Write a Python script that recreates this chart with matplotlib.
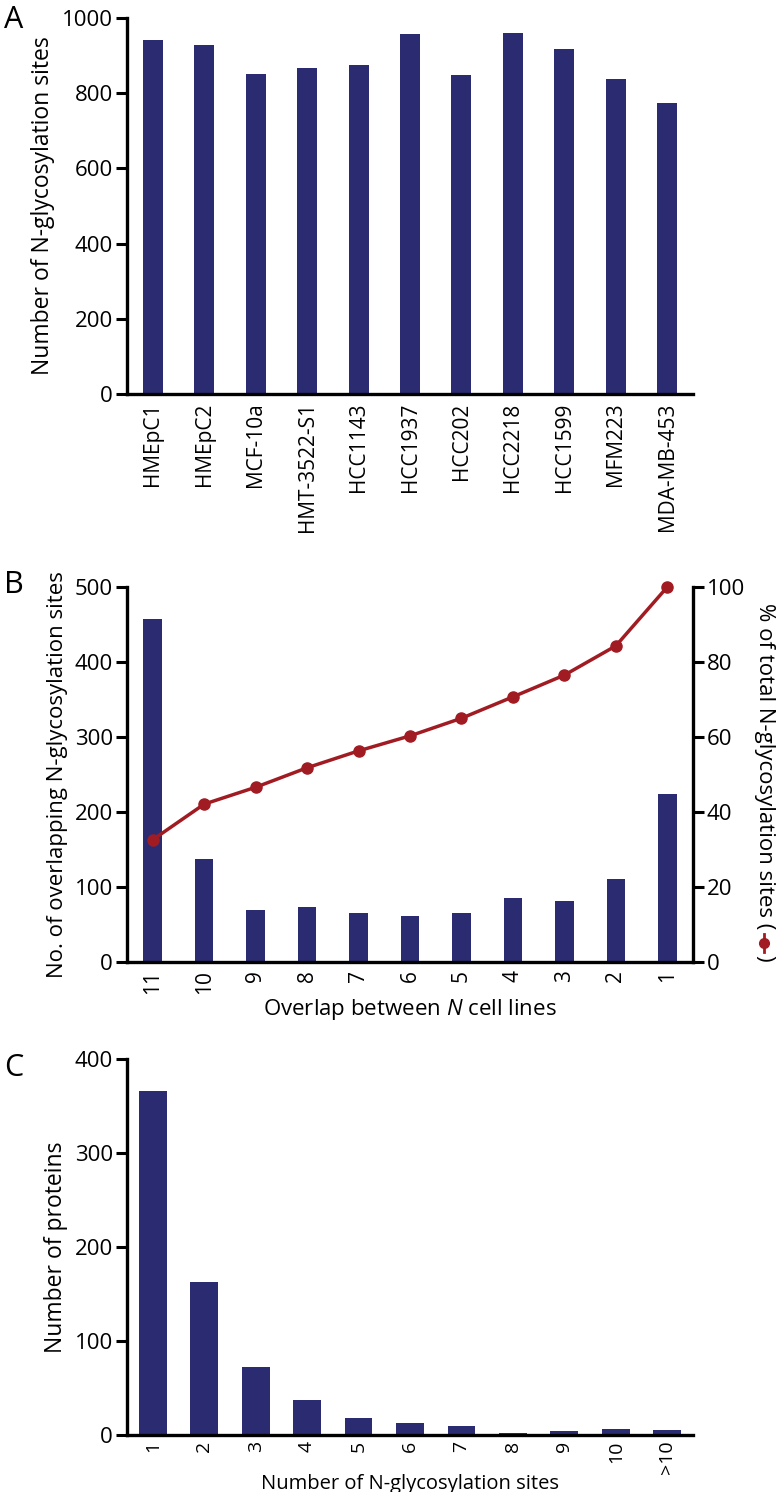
import matplotlib
matplotlib.use("Agg")
import matplotlib.pyplot as plt
from matplotlib.lines import Line2D
import numpy as np

plt.rcParams["font.family"] = ["Open Sans", "DejaVu Sans"]
plt.rcParams["mathtext.fontset"] = "custom"
plt.rcParams["mathtext.it"] = "Open Sans:italic"
plt.rcParams["mathtext.rm"] = "Open Sans"

NAVY = "#2b2b72"
RED = "#a11c22"

# panel A
cell_lines = ["HMEpC1", "HMEpC2", "MCF-10a", "HMT-3522-S1", "HCC1143", "HCC1937",
              "HCC202", "HCC2218", "HCC1599", "MFM223", "MDA-MB-453"]
sites_per_line = [942, 929, 852, 867, 875, 957, 848, 959, 918, 838, 773]

# panel B
overlap_n = ["11", "10", "9", "8", "7", "6", "5", "4", "3", "2", "1"]
overlap_sites = [458, 138, 69, 73, 65, 61, 66, 85, 82, 111, 224]
cumulative_pct = [32.6, 42.1, 46.6, 51.8, 56.3, 60.3, 65.0, 70.7, 76.5, 84.3, 100]

# panel C
n_sites = ["1", "2", "3", "4", "5", "6", "7", "8", "9", "10", ">10"]
n_proteins = [366, 163, 72, 37, 18, 12.5, 9.5, 2.5, 4, 6, 5]

W, H = 780, 1492
fig = plt.figure(figsize=(W / 100, H / 100), dpi=100)


def box(l, r, t, b):
    return [l / W, 1 - b / H, (r - l) / W, (b - t) / H]


def style(ax, xsize=15, ysize=16):
    for s in ["top", "right"]:
        ax.spines[s].set_visible(False)
    for s in ["left", "bottom"]:
        ax.spines[s].set_linewidth(2.4)
    ax.tick_params(axis="y", length=8, width=2.2, labelsize=ysize, pad=2)
    ax.tick_params(axis="x", length=0, labelsize=xsize, pad=6)


# A
axA = fig.add_axes(box(127, 693, 18, 394))
x = np.arange(len(cell_lines))
axA.bar(x, sites_per_line, width=0.39, color=NAVY)
axA.set_xlim(-0.5, 10.5)
axA.set_ylim(0, 1000)
axA.set_yticks([0, 200, 400, 600, 800, 1000])
axA.set_xticks(x)
axA.set_xticklabels(cell_lines, rotation=90)
style(axA)
axA.set_ylabel("Number of N-glycosylation sites", fontsize=16.5, labelpad=5)
fig.text(4 / W, 1 - 20 / H, "A", fontsize=22, va="center", ha="left")

# B
axB = fig.add_axes(box(127, 693, 587, 962))
x = np.arange(len(overlap_n))
axB.bar(x, overlap_sites, width=0.36, color=NAVY)
axB.set_xlim(-0.5, 10.5)
axB.set_ylim(0, 500)
axB.set_yticks([0, 100, 200, 300, 400, 500])
axB.set_xticks(x)
axB.set_xticklabels(overlap_n, rotation=90)
style(axB)
axB.set_ylabel("No. of overlapping N-glycosylation sites", fontsize=16, labelpad=5)
axB.set_xlabel("Overlap between $\\mathit{N}$ cell lines", fontsize=16, labelpad=2)

axB2 = axB.twinx()
axB2.plot(x, cumulative_pct, color=RED, lw=2.5, marker="o", ms=8, clip_on=False, zorder=5)
axB2.set_ylim(0, 100)
axB2.set_yticks([0, 20, 40, 60, 80, 100])
for s in ["top", "left", "bottom"]:
    axB2.spines[s].set_visible(False)
axB2.spines["right"].set_linewidth(2.4)
axB2.tick_params(axis="y", length=8, width=2.2, labelsize=16, pad=2)

# right-axis label with the line+marker glyph inside the brackets
lx = 764 / W
t1 = fig.text(lx, 1 - 603 / H, "% of total N-glycosylation sites (",
              rotation=270, fontsize=16, ha="center", va="top")
fig.canvas.draw()
bb = t1.get_window_extent().transformed(fig.transFigure.inverted())
my = bb.y0 - 14 / H
fig.add_artist(Line2D([lx, lx], [my + 9 / H, my - 9 / H], color=RED, lw=2,
                      transform=fig.transFigure))
fig.add_artist(Line2D([lx], [my], color=RED, marker="o", ms=7,
                      transform=fig.transFigure))
fig.text(lx, my - 12 / H, ")", rotation=270, fontsize=16, ha="center", va="top")
fig.text(4 / W, 1 - 585 / H, "B", fontsize=22, va="center", ha="left")

# C
axC = fig.add_axes(box(127, 693, 1059, 1435))
x = np.arange(len(n_sites))
axC.bar(x, n_proteins, width=0.54, color=NAVY)
axC.set_xlim(-0.5, 10.5)
axC.set_ylim(0, 400)
axC.set_yticks([0, 100, 200, 300, 400])
axC.set_xticks(x)
axC.set_xticklabels(n_sites, rotation=90)
style(axC, xsize=14)
axC.tick_params(axis="x", pad=4)
axC.set_ylabel("Number of proteins", fontsize=16.5, labelpad=5)
axC.set_xlabel("Number of N-glycosylation sites", fontsize=14.5, labelpad=0)
fig.text(4 / W, 1 - 1068 / H, "C", fontsize=22, va="center", ha="left")

fig.savefig("out.png", dpi=100)
